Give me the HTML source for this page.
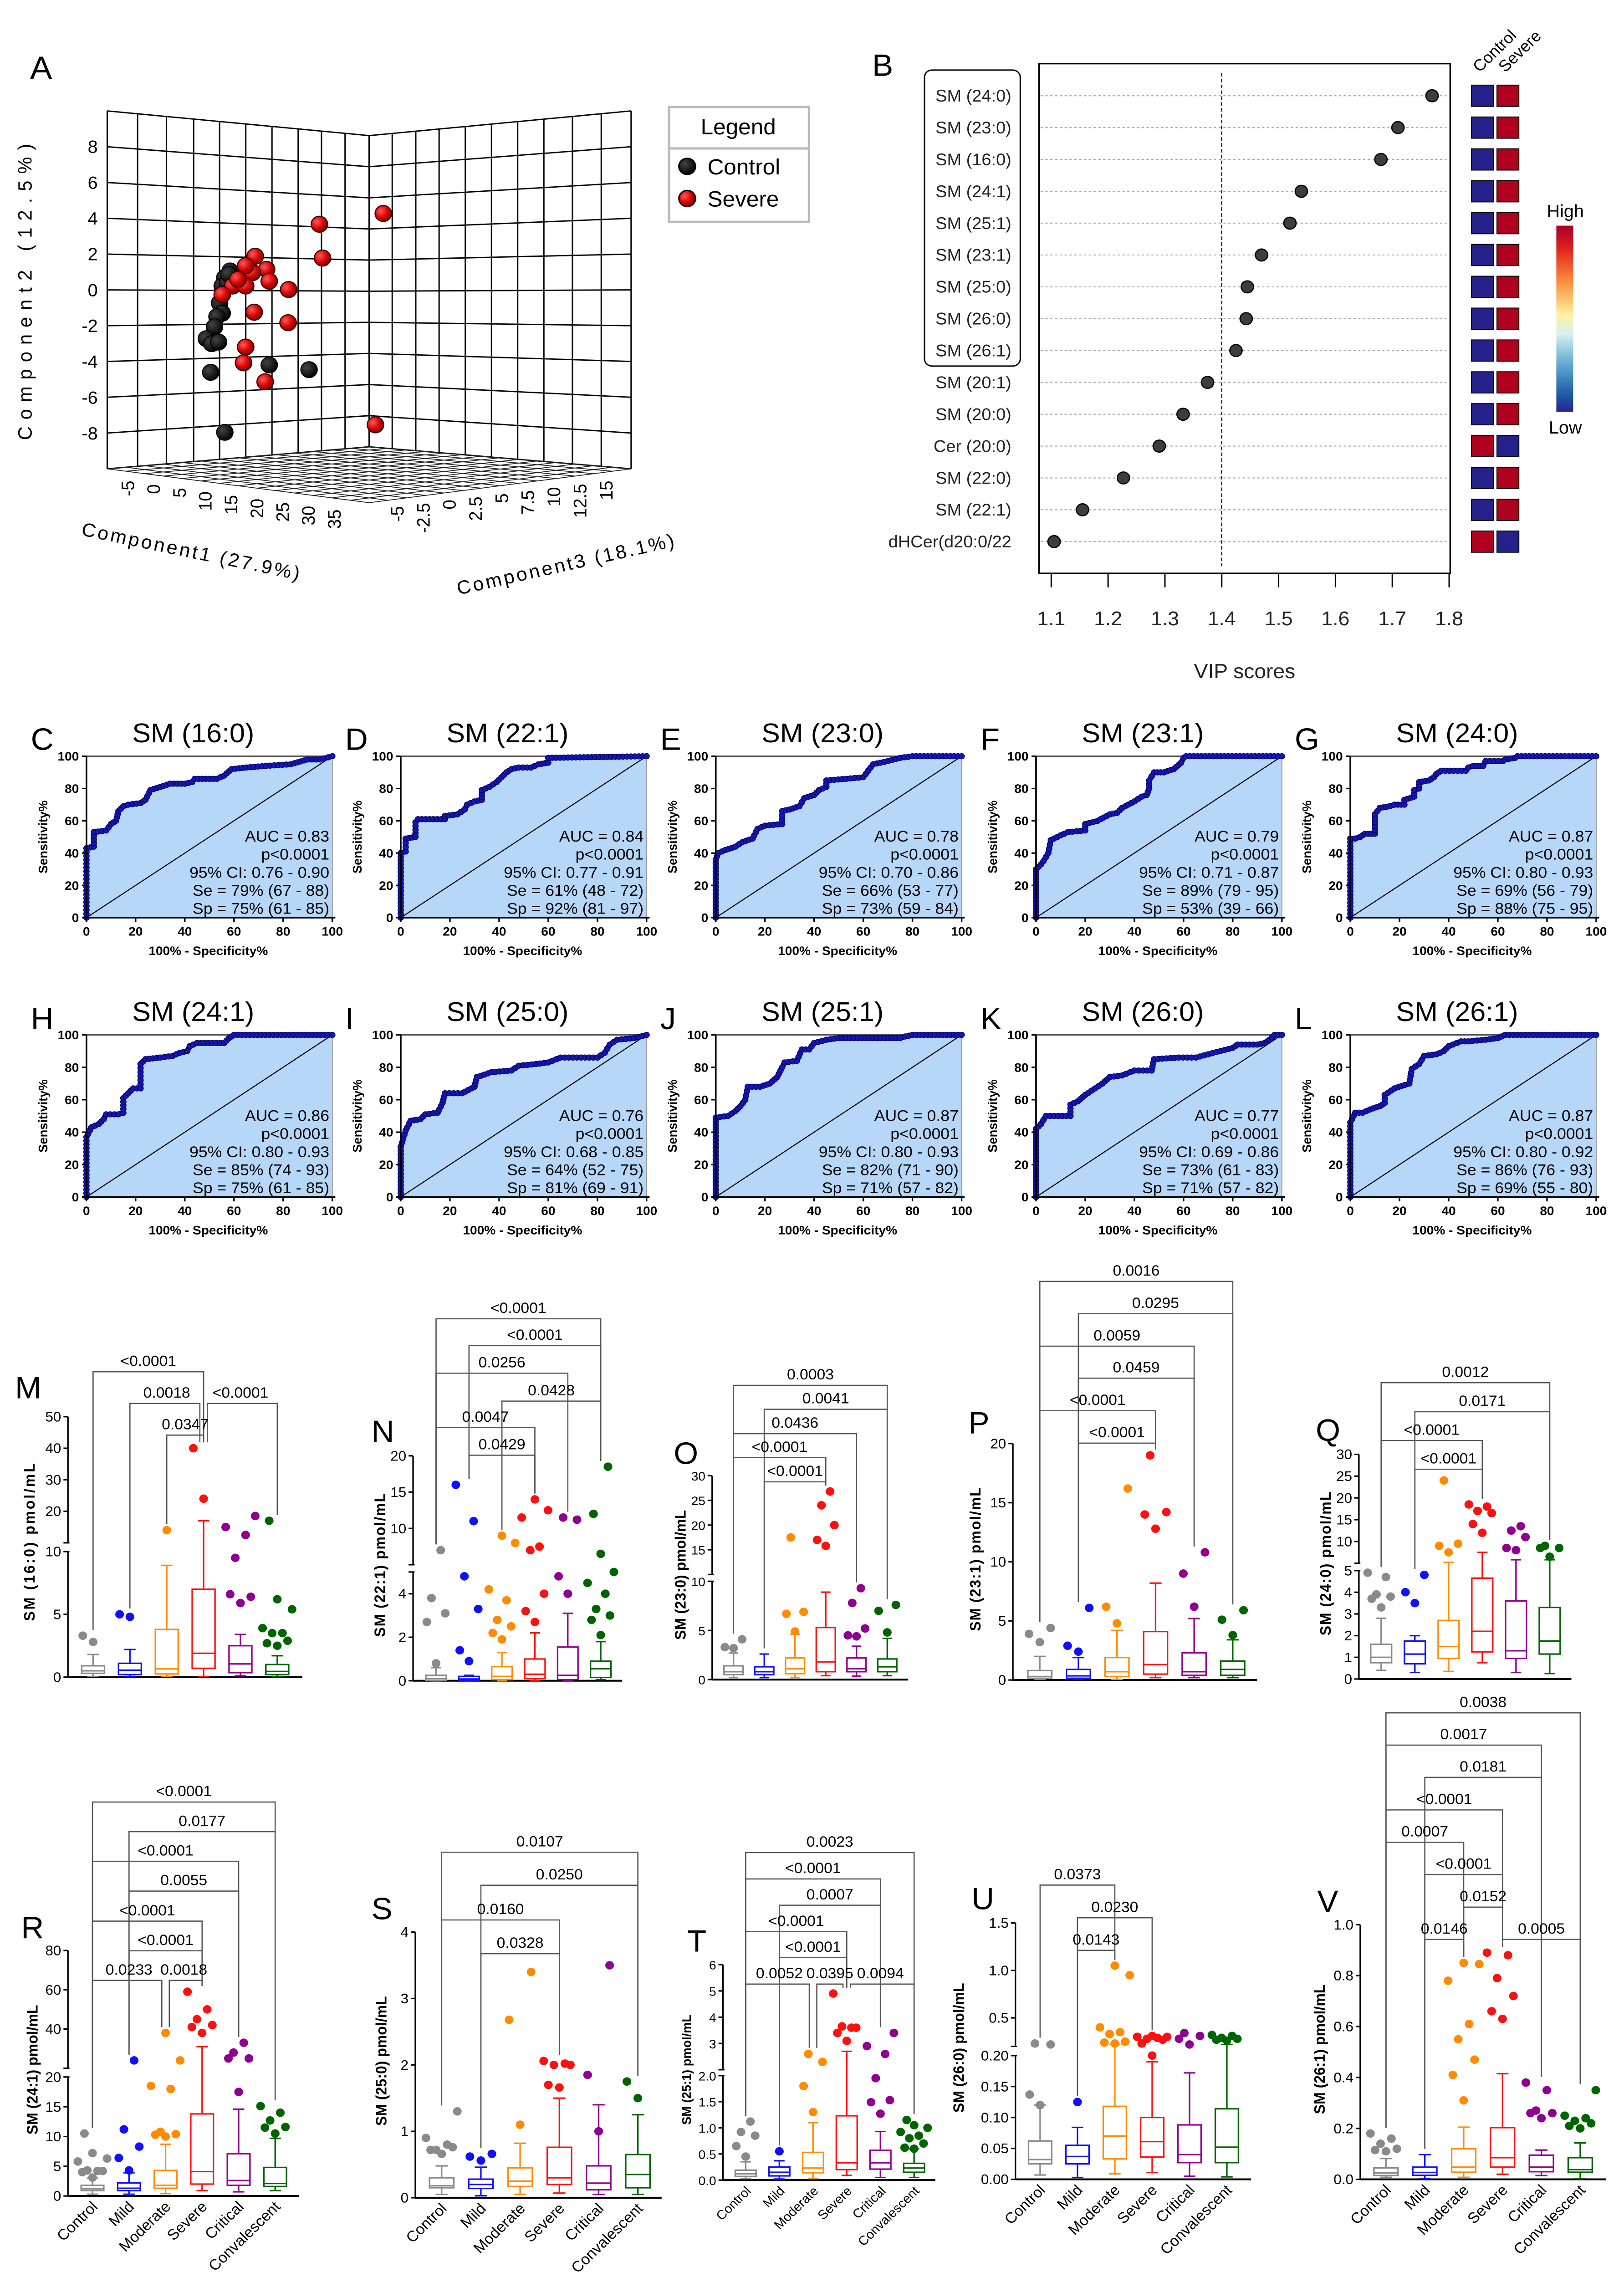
<!DOCTYPE html>
<html><head><meta charset="utf-8">
<style>
html,body{margin:0;padding:0;background:#fff;width:100%;height:100%;overflow:hidden;}
svg{display:block;position:fixed;left:0;top:0;width:100vw;height:100vh;font-family:"Liberation Sans",Arial,sans-serif;}
</style></head>
<body>
<svg id="fig" xmlns="http://www.w3.org/2000/svg" viewBox="0 0 1080 1560" preserveAspectRatio="none" overflow="hidden">
<defs>
<radialGradient id="redball" cx="35%" cy="35%" r="70%"><stop offset="0" stop-color="#ff5a5a"/><stop offset="0.6" stop-color="#d40000"/><stop offset="1" stop-color="#7a0000"/></radialGradient>
<radialGradient id="blackball" cx="35%" cy="35%" r="70%"><stop offset="0" stop-color="#444"/><stop offset="1" stop-color="#000"/></radialGradient>
<linearGradient id="cbar" x1="0" y1="0" x2="0" y2="1">
<stop offset="0" stop-color="#a50026"/><stop offset="0.12" stop-color="#e0201c"/><stop offset="0.3" stop-color="#fb8d3c"/><stop offset="0.48" stop-color="#fff3a0"/><stop offset="0.58" stop-color="#d6f1f2"/><stop offset="0.75" stop-color="#5fa8d0"/><stop offset="0.9" stop-color="#1d5fa8"/><stop offset="1" stop-color="#2b2390"/>
</linearGradient>
</defs>
</svg>
<script>
// ---------------- DATA ----------------
const ctrlProjX=[9.38,8.98,8.78,8.58,8.78,8.38,8.19,7.57,7.98,8.5,7.9,12.37,15.41,8.98,9.18,9.3];
const ctrlPC2=[1.04,0.67,0.2,-0.75,-1.32,-1.51,-2.08,-2.74,-3.02,-2.93,-4.62,-4.21,-4.47,-7.97,0.38,0.85];
const sevProjX=[21.08,16.2,16.44,11.3,12.17,11.09,10.57,12.37,13.85,9.58,10.57,8.78,11.22,13.81,10.57,10.41,12.06,20.48,9.98];
const sevPC2=[4.25,3.65,1.76,1.86,1.13,0.95,1.33,0.47,0,0.2,0.2,-0.28,-1.26,-1.85,-3.21,-4.09,-5.15,-7.55,0.57];
const pc2Ticks=[8,6,4,2,0,-2,-4,-6,-8];
const pc1Ticks=['-5','0','5','10','15','20','25','30','35'];
const pc3Ticks=['-5','-2.5','0','2.5','5','7.5','10','12.5','15'];
const vipNames=['SM (24:0)','SM (23:0)','SM (16:0)','SM (24:1)','SM (25:1)','SM (23:1)','SM (25:0)','SM (26:0)','SM (26:1)','SM (20:1)','SM (20:0)','Cer (20:0)','SM (22:0)','SM (22:1)','dHCer(d20:0/22'];
const vipScores=[1.77,1.71,1.68,1.54,1.52,1.47,1.445,1.443,1.425,1.375,1.332,1.29,1.227,1.155,1.105];
const heatControl=[0,0,0,0,0,0,0,0,0,0,0,1,0,0,1];
const heatSevere=[1,1,1,1,1,1,1,1,1,1,1,0,1,1,0];
const vipTicks=[1.1,1.2,1.3,1.4,1.5,1.6,1.7,1.8];
const rocLetters=['C','D','E','F','G','H','I','J','K','L'];
const rocTitles=['SM (16:0)','SM (22:1)','SM (23:0)','SM (23:1)','SM (24:0)','SM (24:1)','SM (25:0)','SM (25:1)','SM (26:0)','SM (26:1)'];
const rocAUC=['0.83','0.84','0.78','0.79','0.87','0.86','0.76','0.87','0.77','0.87'];
const rocCI=['0.76 - 0.90','0.77 - 0.91','0.70 - 0.86','0.71 - 0.87','0.80 - 0.93','0.80 - 0.93','0.68 - 0.85','0.80 - 0.93','0.69 - 0.86','0.80 - 0.92'];
const rocSe=['79% (67 - 88)','61% (48 - 72)','66% (53 - 77)','89% (79 - 95)','69% (56 - 79)','85% (74 - 93)','64% (52 - 75)','82% (71 - 90)','73% (61 - 83)','86% (76 - 93)'];
const rocSp=['75% (61 - 85)','92% (81 - 97)','73% (59 - 84)','53% (39 - 66)','88% (75 - 95)','75% (61 - 85)','81% (69 - 91)','71% (57 - 82)','71% (57 - 82)','69% (55 - 80)'];
const rocC=[[0,0],[0,43],[3,44],[3,53],[8,54],[10,58],[12,60],[13,66],[15,69],[17,70],[22,71],[24,73],[26,79],[30,81],[34,83],[40,83],[43,84],[44,86],[53,86],[56,88],[59,92],[65,93],[73,94],[83,95],[90,98],[95,98],[100,100]];
const rocD=[[0,0],[0,40],[2,41],[2,49],[6,50],[6,59],[7,61],[18,61],[18,63],[23,64],[26,67],[27,70],[30,72],[33,73],[33,79],[36,81],[39,84],[41,87],[43,90],[45,92],[48,93],[53,93],[56,95],[60,96],[60,99],[100,100]];
const rocE=[[0,0],[0,36],[1,40],[4,42],[8,44],[11,47],[15,49],[17,55],[20,57],[27,58],[27,66],[30,67],[34,69],[36,74],[40,76],[42,79],[45,81],[45,85],[53,86],[60,87],[62,91],[64,95],[70,97],[75,99],[80,100],[100,100]];
const rocF=[[0,0],[0,30],[2,33],[3,35],[5,40],[6,48],[10,51],[13,53],[20,54],[20,58],[25,60],[30,64],[33,65],[35,68],[40,72],[43,75],[45,76],[46,80],[46,85],[48,90],[52,90],[56,92],[59,96],[60,99],[61,100],[100,100]];
const rocG=[[0,0],[0,49],[2,49],[4,50],[6,52],[10,52],[10,64],[12,68],[16,69],[18,70],[22,70],[22,73],[26,75],[26,79],[28,80],[28,84],[32,85],[34,87],[35,89],[37,91],[47,91],[48,93],[50,94],[54,94],[55,97],[62,97],[63,98],[67,99],[68,100],[100,100]];
const rocH=[[0,0],[0,37],[2,43],[5,45],[7,48],[8,51],[13,51],[15,52],[15,61],[17,64],[19,67],[22,67],[22,82],[24,85],[30,86],[35,87],[38,89],[41,90],[42,93],[45,95],[56,95],[58,98],[60,100],[100,100]];
const rocI=[[0,0],[0,31],[2,41],[4,47],[8,48],[10,51],[15,52],[17,58],[18,64],[25,64],[30,68],[31,74],[37,77],[45,78],[48,81],[55,82],[60,83],[65,86],[80,86],[83,89],[85,94],[88,97],[95,98],[100,100]];
const rocJ=[[0,0],[0,49],[5,50],[8,53],[10,56],[12,60],[13,68],[18,68],[22,70],[25,74],[27,80],[28,83],[33,84],[35,91],[38,91],[40,95],[45,97],[50,98],[75,98],[77,99],[80,100],[100,100]];
const rocK=[[0,0],[0,42],[2,45],[4,50],[14,50],[14,57],[17,59],[20,63],[24,67],[27,70],[30,74],[35,75],[40,78],[47,78],[48,85],[58,86],[65,86],[70,88],[75,90],[80,92],[82,94],[90,94],[93,95],[95,97],[97,100],[100,100]];
const rocL=[[0,0],[0,46],[2,52],[5,52],[8,54],[12,56],[14,58],[14,63],[18,67],[22,69],[24,70],[25,79],[28,82],[30,87],[35,88],[38,90],[40,93],[45,96],[48,96],[55,97],[60,98],[63,100],[100,100]];
const rocTicks=[0,20,40,60,80,100];
const groups=['Control','Mild','Moderate','Severe','Critical','Convalescent'];
const boxM=[[0.05,0.3,0.5,0.9,1.8],[0.05,0.2,0.55,1.1,2.2],[0.05,0.25,0.65,3.8,8.9],[0.05,0.7,1.9,7.0,17],[0.1,0.35,1.05,2.5,3.4],[0.05,0.2,0.45,1.0,1.7]];
const outM=[[2.8,3.3],[4.8,5.0],[14],[24,40],[5.9,6.6,6.4,9.5,12.5,15,18.5],[2.5,2.7,2.9,3.5,3.5,3.9,5.4,6.2,17]];
const brM=[[0,3,'<0.0001'],[1,3,'0.0018'],[3,5,'<0.0001'],[2,3,'0.0347']];
const boxN=[[0,0.02,0.1,0.25,0.6],[0,0.02,0.08,0.2,0.25],[0,0.05,0.2,0.65,1.3],[0,0.1,0.3,1.0,2.2],[0,0.05,0.25,1.55,3.1],[0.05,0.15,0.55,0.9,1.8]];
const outN=[[0.8,2.7,3.1,3.8,7],[0.9,1.4,3.3,4.8,11,16],[1.9,2.2,2.5,2.8,3.7,4.2,8,9],[2.7,3.2,4.0,7,7.5,11.5,12.5,14],[4,4.8,11.2,11.5],[2.1,2.8,3.0,3.3,4.0,4.5,5.0,6.5,12,18.5]];
const brN=[[0,5,'<0.0001'],[1,5,'<0.0001'],[0,4,'0.0256'],[2,5,'0.0428'],[0,3,'0.0047'],[1,3,'0.0429']];
const boxO=[[0.2,0.5,0.8,1.4,2.7],[0.2,0.5,0.8,1.3,2.6],[0.2,0.6,1.1,2.2,4.6],[0.4,0.8,1.8,5.3,8.9],[0.35,0.8,1.1,2.2,3.4],[0.4,0.8,1.3,2.1,4.2]];
const outO=[[3.2,3.3,4.1],[],[4.9,6.7,6.9,17.5],[15.8,17,20,24,26.8],[4.4,4.5,5.2,7.8,9.3],[4.8,7.0,7.6]];
const brO=[[0,5,'0.0003'],[1,5,'0.0041'],[0,4,'0.0436'],[0,3,'<0.0001'],[1,3,'<0.0001']];
const boxP=[[0.05,0.15,0.3,0.8,2.0],[0.05,0.15,0.35,0.9,1.9],[0.05,0.3,0.7,1.9,4.2],[0.2,0.5,1.3,4.1,8.2],[0.2,0.4,0.7,2.3,5.2],[0.2,0.4,0.9,1.6,3.4]];
const outP=[[3.2,3.9,4.4],[2.4,2.9,6.1],[4.8,6.2,16.2],[12.8,14,14.2,19],[6.2,9,10.8],[3.8,5.1,5.9]];
const brP=[[0,5,'0.0016'],[1,5,'0.0295'],[0,4,'0.0059'],[1,4,'0.0459'],[0,3,'<0.0001'],[1,3,'<0.0001']];
const boxQ=[[0.4,0.75,1.0,1.6,2.8],[0.3,0.7,1.15,1.75,2.0],[0.35,0.95,1.5,2.7,5.2],[0.75,1.25,2.2,4.65,7.5],[0.3,0.95,1.3,3.6,5.8],[0.25,1.15,1.75,3.3,5.8]];
const outQ=[[3.3,3.7,3.8,3.9,4.7,4.9],[3.5,4.0,4.8],[7.5,9,9.5,24],[12,14,16.5,17,18,18.5],[8,8.5,11,12.5,13.5],[6.5,8.5,8.5,9.0]];
const brQ=[[0,5,'0.0012'],[1,5,'0.0171'],[0,3,'<0.0001'],[1,3,'<0.0001']];
const boxR=[[0.3,0.9,1.2,1.8,3.0],[0.3,0.9,1.3,2.2,3.9],[0.4,1.3,1.8,4.3,8.7],[0.9,2.0,4.1,13.8,31],[0.7,1.8,2.6,7.1,14.6],[0.9,1.6,2.1,4.8,9.7]];
const outR=[[3.1,4,4.2,4.3,4.2,5.8,6.3,7.2,10.5],[4.3,6.4,8.3,11.2,24],[10,10.3,10.4,10.8,18,18.5,24,38],[38,41,42,45,50,59],[17.5,25,25,28,33],[10.5,11.5,11.6,12.7,14,15.1]];
const brR=[[0,5,'<0.0001'],[1,5,'0.0177'],[0,4,'<0.0001'],[1,4,'0.0055'],[0,3,'<0.0001'],[1,3,'<0.0001'],[0,2,'0.0233'],[2,3,'0.0018']];
const boxS=[[0.05,0.15,0.18,0.3,0.48],[0.03,0.14,0.2,0.28,0.46],[0.05,0.17,0.25,0.45,0.82],[0.07,0.2,0.3,0.76,1.5],[0.05,0.12,0.22,0.48,1.4],[0.05,0.15,0.35,0.65,1.25]];
const outS=[[0.66,0.72,0.76,0.72,0.8,0.9,1.3],[0.56,0.62,0.66],[1.1,2.68,3.4],[1.66,1.7,2.0,2.0,2.02,2.06],[1.0,1.85,3.5],[1.5,1.75]];
const brS=[[0,5,'0.0107'],[1,5,'0.0250'],[0,3,'0.0160'],[1,3,'0.0328']];
const boxT=[[0.03,0.07,0.12,0.19,0.35],[0.02,0.08,0.15,0.25,0.37],[0.03,0.14,0.23,0.53,1.1],[0.09,0.2,0.33,1.23,2.7],[0.05,0.21,0.33,0.57,0.93],[0.05,0.15,0.23,0.32,0.6]];
const outT=[[0.45,0.65,0.85,0.92,1.12],[0.55],[1.3,1.8,2.3,2.6],[3.1,3.4,3.6,3.65,3.6,4.9],[1.27,1.49,1.53,1.95,2.6,2.9,3.4],[0.6,0.62,0.7,0.8,0.85,0.92,1.0,1.05,1.15]];
const brT=[[0,5,'0.0023'],[0,4,'<0.0001'],[1,4,'0.0007'],[0,3,'<0.0001'],[1,3,'<0.0001'],[0,2,'0.0052'],[2,3,'0.0395'],[3,5,'0.0094']];
const boxU=[[0.007,0.025,0.032,0.062,0.12],[0.003,0.025,0.037,0.055,0.084],[0.009,0.033,0.07,0.118,0.22],[0.011,0.036,0.061,0.1,0.19],[0.005,0.027,0.04,0.088,0.172],[0.004,0.027,0.052,0.114,0.22]];
const outU=[[0.12,0.137,0.22,0.23],[0.125],[0.23,0.24,0.25,0.33,0.35,0.4,0.95,1.05],[0.2,0.23,0.27,0.28,0.29,0.3,0.3,0.31],[0.22,0.28,0.31,0.34],[0.26,0.27,0.28,0.29,0.31,0.32]];
const brU=[[0,2,'0.0373'],[1,3,'0.0230'],[1,2,'0.0143']];
const boxV=[[0.008,0.015,0.025,0.045,0.082],[0.003,0.016,0.027,0.048,0.097],[0.008,0.028,0.048,0.12,0.205],[0.02,0.048,0.085,0.203,0.415],[0.015,0.03,0.048,0.095,0.115],[0.003,0.028,0.038,0.085,0.143]];
const outV=[[0.11,0.115,0.12,0.14,0.16,0.18],[],[0.31,0.41,0.47,0.55,0.61,0.78,0.845,0.85],[0.63,0.66,0.72,0.79,0.88,0.89],[0.24,0.26,0.26,0.27,0.35,0.38],[0.2,0.21,0.22,0.23,0.24,0.25,0.35]];
const brV=[[0,5,'0.0038'],[0,4,'0.0017'],[1,4,'0.0181'],[0,3,'<0.0001'],[0,2,'0.0007'],[1,3,'<0.0001'],[2,3,'0.0152'],[1,2,'0.0146'],[3,5,'0.0005']];

// ---------------- RENDER ----------------
const NS='http://www.w3.org/2000/svg';
const svg=document.getElementById('fig');
function mk(tag,attrs,parent){const e=document.createElementNS(NS,tag);for(const k in attrs)e.setAttribute(k,attrs[k]);(parent||svg).appendChild(e);return e;}
function tx(parent,x,y,s,attrs){const a=Object.assign({x:x,y:y},attrs||{});const e=mk('text',a,parent);e.textContent=s;return e;}
function grp(name){const g=mk('g',{});return g;}

// ===== Panel A =====
(function(){
const g=grp('panel-a-3d-scatter');
const L=tx(g,20,54,'A',{'font-size':22});


const lerp=(a,b,t)=>[a[0]+(b[0]-a[0])*t,a[1]+(b[1]-a[1])*t];
const TL=[71.3,76],TC=[245.5,92.9],BC=[245.5,306.1],BL=[71.3,321.2],TR=[419.7,76],BR=[419.7,321.2],FR=[245.5,344.4];
const gridG=mk('g',{stroke:'#000','stroke-width':0.9,fill:'none'},g);


const fl=[0,0.116,0.226,0.33,0.429,0.529,0.629,0.729,0.818,0.908,1];
const fr=[0,0.088,0.178,0.267,0.367,0.467,0.567,0.667,0.776,0.886,1];
fl.forEach(t=>{const a=lerp(TL,TC,t),b=lerp(BL,BC,t);mk('line',{x1:a[0],y1:a[1],x2:b[0],y2:b[1]},gridG);});
fr.forEach(t=>{const a=lerp(TC,TR,t),b=lerp(BC,BR,t);mk('line',{x1:a[0],y1:a[1],x2:b[0],y2:b[1]},gridG);});
for(let k=0;k<=10;k++){const t=k/10;const a=lerp(TL,BL,t),b=lerp(TC,BC,t),c=lerp(TR,BR,t);
 mk('polyline',{points:`${a[0]},${a[1]} ${b[0]},${b[1]} ${c[0]},${c[1]}`},gridG);}
const floorG=mk('g',{stroke:'#222','stroke-width':0.55,fill:'none'},g);


const n=14;
for(let k=0;k<=n;k++){const t=k/n;
 const a=lerp(BL,BC,t),b=lerp(FR,BR,t);mk('line',{x1:a[0],y1:a[1],x2:b[0],y2:b[1]},floorG);
 const c=lerp(BC,BR,t),d=lerp(BL,FR,t);mk('line',{x1:c[0],y1:c[1],x2:d[0],y2:d[1]},floorG);}
const ya=v=>198.4-v*12.27;
pc2Ticks.forEach(v=>{const e=tx(g,65,ya(v)+4.5,String(v),{'font-size':12,'text-anchor':'end'});
 
 });
pc1Ticks.forEach((s,i)=>{const t=i/8;const x=85.2+(222.5-85.2)*t,y=329.3+(349-329.3)*t;
 const e=tx(g,x+4,y,s,{'font-size':12,'text-anchor':'end',transform:`rotate(-90 ${x+4} ${y})`});
 
 });
pc3Ticks.forEach((s,i)=>{const t=i/8;const x=264.3+(403.3-264.3)*t,y=346.7+(329.3-346.7)*t;
 const e=tx(g,x+4,y,s,{'font-size':12,'text-anchor':'end',transform:`rotate(-90 ${x+4} ${y})`});
 
 });
let e=tx(g,21,200,'Component2 (12.5%)',{'font-size':13,'text-anchor':'middle',textLength:203,lengthAdjust:'spacing',transform:'rotate(-90 21 200)'});


e=tx(g,126,382,'Component1 (27.9%)',{'font-size':13,'text-anchor':'middle',textLength:148,lengthAdjust:'spacing',transform:'rotate(12 126 382)'});


e=tx(g,377,391,'Component3 (18.1%)',{'font-size':13,'text-anchor':'middle',textLength:148,lengthAdjust:'spacing',transform:'rotate(-13 377 391)'});


const px=u=>71.3+u*8.71;
const pg=mk('g',{},g);


ctrlProjX.forEach((u,i)=>{const c=mk('circle',{cx:px(u),cy:ya(ctrlPC2[i]),r:5.5,fill:'url(#blackball)',stroke:'#000','stroke-width':0.6},pg);
 
 });
sevProjX.forEach((u,i)=>{const c=mk('circle',{cx:px(u),cy:ya(sevPC2[i]),r:5.5,fill:'url(#redball)',stroke:'#300','stroke-width':0.7},pg);
 
 });
const lg=mk('g',{},g);


mk('rect',{x:445,y:73.2,width:93,height:78.8,fill:'#fff',stroke:'#bbb','stroke-width':1.6},lg);
mk('line',{x1:445,y1:101.7,x2:538,y2:101.7,stroke:'#bbb','stroke-width':1.6},lg);
tx(lg,491,92,'Legend',{'font-size':15,'text-anchor':'middle'});
let c=mk('circle',{cx:457,cy:114,r:5.5,fill:'url(#blackball)',stroke:'#000'},lg);


tx(lg,470.5,119.5,'Control',{'font-size':15});
c=mk('circle',{cx:457,cy:136,r:5.5,fill:'url(#redball)',stroke:'#300'},lg);


tx(lg,470.5,141.5,'Severe',{'font-size':15});
})();

// ===== Panel B =====
(function(){
const g=grp('panel-b-vip-scores');
let e=tx(g,580,52,'B',{'font-size':21});


const x=v=>699.1+(v-1.1)*378;
const row=i=>65.6+i*21.82;
mk('rect',{x:691,y:43.6,width:273.4,height:349.2,fill:'none',stroke:'#000','stroke-width':1},g);
mk('rect',{x:614.8,y:48,width:63.7,height:202.8,rx:5,fill:'none',stroke:'#000','stroke-width':0.9},g);
mk('line',{x1:x(1.4),y1:50,x2:x(1.4),y2:388,stroke:'#000','stroke-width':0.7,'stroke-dasharray':'2.5,1.5'},g);
vipNames.forEach((nm,i)=>{
 const y=row(i);
 const l=mk('line',{x1:692,y1:y,x2:962,y2:y,stroke:'#aaa','stroke-width':0.7,'stroke-dasharray':'1.6,1.6'},g);
 
 
 const t=tx(g,672.6,y+4,nm,{'font-size':11.5,'text-anchor':'end',fill:'#222'});
 
 
 const c=mk('circle',{cx:x(vipScores[i]),cy:y,r:4.1,fill:'#3d3d3d',stroke:'#000','stroke-width':0.8},g);
 
 
 const hc=mk('rect',{x:978.5,y:y-7.3,width:14.6,height:14.6,fill:heatControl[i]?'#b00020':'#25208a',stroke:'#000','stroke-width':0.6},g);
 
 
 const hs=mk('rect',{x:995.5,y:y-7.3,width:14.6,height:14.6,fill:heatSevere[i]?'#b00020':'#25208a',stroke:'#000','stroke-width':0.6},g);
 
 
});
vipTicks.forEach(v=>{
 mk('line',{x1:x(v),y1:392.8,x2:x(v),y2:402.4,stroke:'#000','stroke-width':0.9},g);
 const t=tx(g,x(v),428.4,v.toFixed(1),{'font-size':13.5,'text-anchor':'middle',fill:'#222'});
 
 
});
e=tx(g,827.7,464.6,'VIP scores',{'font-size':14,'text-anchor':'middle',fill:'#222'});


e=tx(g,984,50,'Control',{'font-size':11,transform:'rotate(-45 984 50)'});


e=tx(g,1001,50,'Severe',{'font-size':11,transform:'rotate(-45 1001 50)'});


e=mk('rect',{x:1035,y:154.6,width:11.2,height:127.5,fill:'url(#cbar)'},g);


e=tx(g,1041,148.8,'High',{'font-size':12,'text-anchor':'middle'});


e=tx(g,1041,297,'Low',{'font-size':12,'text-anchor':'middle'});


})();

// ===== ROC panels =====
const rocCurves=[rocC,rocD,rocE,rocF,rocG,rocH,rocI,rocJ,rocK,rocL];
const rocAxX=[57.5,266.5,476,689,898];
rocCurves.forEach((curve,k)=>{
 const col=k%5,rowi=Math.floor(k/5);
 const ax=rocAxX[col],top=rowi?709:518.1,bot=rowi?820.1:628.7,W=163.5,H=bot-top;
 const X=v=>ax+v/100*W, Y=v=>bot-v/100*H;
 const g=grp('roc-panel-'+rocLetters[k].toLowerCase());
 let e=tx(g,ax-37,bot-115,rocLetters[k],{'font-size':21});
 
 
 e=tx(g,ax+71,top-9.5,rocTitles[k],{'font-size':18.5,'text-anchor':'middle'});
 
 
 const pts=curve.map(p=>X(p[0])+','+Y(p[1])).join(' ');
 e=mk('polygon',{points:pts+' '+X(100)+','+Y(0),fill:'#b6d7f7'},g);
 
 
 mk('line',{x1:X(0),y1:Y(100),x2:X(100),y2:Y(100),stroke:'#555','stroke-width':1},g);
 mk('line',{x1:X(100),y1:Y(100),x2:X(100),y2:Y(0),stroke:'#999','stroke-width':0.6},g);
 e=mk('line',{x1:X(0),y1:Y(0),x2:X(100),y2:Y(100),stroke:'#000','stroke-width':0.7},g);
 
 
 e=mk('polyline',{points:pts,fill:'none',stroke:'#000060','stroke-width':3.6,'stroke-linejoin':'round'},g);
 
 
 const dg=mk('g',{fill:'#1515b5',stroke:'#000050','stroke-width':0.4},g);
 
 
 for(let i=0;i<curve.length-1;i++){
  const x1=X(curve[i][0]),y1=Y(curve[i][1]),x2=X(curve[i+1][0]),y2=Y(curve[i+1][1]);
  const d=Math.hypot(x2-x1,y2-y1),n=Math.max(1,Math.round(d/2.6));
  for(let j=0;j<n;j++){const t=j/n;mk('circle',{cx:x1+(x2-x1)*t,cy:y1+(y2-y1)*t,r:1.9},dg);}
 }
 mk('circle',{cx:X(100),cy:Y(100),r:1.9},dg);
 mk('line',{x1:ax,y1:top,x2:ax,y2:bot,stroke:'#000','stroke-width':1.1},g);
 mk('line',{x1:ax,y1:bot,x2:ax+W+2,y2:bot,stroke:'#000','stroke-width':1.1},g);
 rocTicks.forEach(v=>{
  mk('line',{x1:ax-3,y1:Y(v),x2:ax,y2:Y(v),stroke:'#000','stroke-width':1},g);
  mk('line',{x1:X(v),y1:bot,x2:X(v),y2:bot+3,stroke:'#000','stroke-width':1},g);
  let t=tx(g,ax-5,Y(v)+3,String(v),{'font-size':8.5,'font-weight':'bold','text-anchor':'end'});
  
  
  t=tx(g,X(v),bot+12.3,String(v),{'font-size':8.5,'font-weight':'bold','text-anchor':'middle'});
  
  
 });
 e=tx(g,ax+81,bot+25.5,'100% - Specificity%',{'font-size':8.5,'font-weight':'bold','text-anchor':'middle'});
 
 
 const yc=(top+bot)/2;
 e=tx(g,ax-26,yc,'Sensitivity%',{'font-size':8.5,'font-weight':'bold','text-anchor':'middle',transform:`rotate(-90 ${ax-26} ${yc})`});
 
 
 const lines=['AUC = '+rocAUC[k],'p<0.0001','95% CI:  '+rocCI[k],'Se = '+rocSe[k],'Sp = '+rocSp[k]];
 lines.forEach((s,i)=>{const t=tx(g,ax+161.5,bot-52.1+i*12.37,s,{'font-size':10.8,'text-anchor':'end'});
  
  });
});

// ===== Box plot panels =====
const colors=['#8a8a8a','#1010ff','#ff8c00','#ff1010','#900090','#006400'];
const boxPanels=[
 {id:'m',letter:'M',lx:10,ly:958,box:boxM,out:outM,br:brM,ax:45.2,gx0:61.9,gdx:24.5,right:201,segs:[[0,10,1149,1063],[10,50,1057,970.6]],ticks:[[0,5,10],[20,30,40,50]],fmt:0,brY:[939.8,961.5,961.5,983.2],yl:'SM (16:0) pmol/mL',ylx:23,yly:1056,yls:1.2,cats:false},
 {id:'n',letter:'N',lx:247,ly:988,box:boxN,out:outN,br:brN,ax:274.7,gx0:290,gdx:21.9,right:413.8,segs:[[0,5,1151.5,1077],[5,20,1072,997.4]],ticks:[[0,2,4],[10,15,20]],fmt:0,brY:[903.5,921.9,940.8,959.9,978,997],yl:'SM (22:1) pmol/mL',ylx:256,yly:1072,yls:0.6,cats:false},
 {id:'o',letter:'O',lx:448,ly:1003,box:boxO,out:outO,br:brO,ax:473.6,gx0:487.8,gdx:20.45,right:604,segs:[[0,10,1150.7,1083.4],[10,30,1078.7,1011]],ticks:[[0,5,10],[15,20,25,30]],fmt:0,brY:[949.1,965.5,982.2,998.6,1015.2],yl:'SM (23:0) pmol/mL',ylx:456,yly:1079,yls:0,cats:false,fs:8.5},
 {id:'p',letter:'P',lx:644,ly:982,box:boxP,out:outP,br:brP,ax:673.6,gx0:691.5,gdx:25.66,right:836,segs:[[0,20,1151,989]],ticks:[[0,5,10,15,20]],fmt:0,brY:[877.9,900,922.3,944.2,966.5,988.7],yl:'SM (23:1) pmol/mL',ylx:652,yly:1068,yls:0.6,cats:false},
 {id:'q',letter:'Q',lx:875,ly:987,box:boxQ,out:outQ,br:brQ,ax:903.7,gx0:918.5,gdx:22.42,right:1045,segs:[[0,5,1150.3,1076],[5,30,1071,996.4]],ticks:[[0,1,2,3,4,5],[10,15,20,25,30]],fmt:0,brY:[947.3,967.2,986.9,1006.6],yl:'SM (24:0) pmol/mL',ylx:885,yly:1071,yls:0.6,cats:false},
 {id:'r',letter:'R',lx:14,ly:1328,box:boxR,out:outR,br:brR,ax:45.2,gx0:61.5,gdx:24.3,right:198.8,segs:[[0,20,1504.5,1423],[20,80,1417,1336.3]],ticks:[[0,5,10,15,20],[40,60,80]],fmt:0,brY:[1234.6,1254.9,1275.2,1295.6,1316.2,1336.5,1356.8,1356.8],yl:'SM (24:1) pmol/mL',ylx:25,yly:1418,yls:0,cats:true},
 {id:'s',letter:'S',lx:247,ly:1315,box:boxS,out:outS,br:brS,ax:276.2,gx0:293.7,gdx:26.1,right:440,segs:[[0,4,1505.7,1323.7]],ticks:[[0,1,2,3,4]],fmt:0,brY:[1269,1291.6,1315.4,1338.5],yl:'SM (25:0) pmol/mL',ylx:257,yly:1412,yls:0,cats:true},
 {id:'t',letter:'T',lx:457,ly:1337,box:boxT,out:outT,br:brT,ax:480.8,gx0:495.9,gdx:22.4,right:622,segs:[[0,2,1493.6,1422],[2,6,1418,1346]],ticks:[[0,0.5,1,1.5,2],[3,4,5,6]],fmt:[1,0],brY:[1269.2,1287.3,1305.3,1323.4,1341.2,1359.3,1359.3,1359.3],yl:'SM (25:1) pmol/mL',ylx:459.5,yly:1418,yls:0,cats:true,fs:8.5,cfs:8.8},
 {id:'u',letter:'U',lx:646,ly:1308,box:boxU,out:outU,br:brU,ax:675.3,gx0:691.7,gdx:24.84,right:832,segs:[[0,0.2,1493.1,1408.3],[0.2,1.5,1402,1317.4]],ticks:[[0,0.05,0.1,0.15,0.2],[0.5,1,1.5]],fmt:[2,1],brY:[1291.5,1313.9,1336.2],yl:'SM (26:0) pmol/mL',ylx:641,yly:1403,yls:0,cats:true},
 {id:'v',letter:'V',lx:876,ly:1310,box:boxV,out:outV,br:brV,ax:904.6,gx0:921.7,gdx:25.84,right:1068,segs:[[0,1,1493.1,1318.6]],ticks:[[0,0.2,0.4,0.6,0.8,1]],fmt:[1],brY:[1173.5,1195.6,1217.7,1240,1262.2,1284.3,1306.6,1328.7,1328.7],yl:'SM (26:1) pmol/mL',ylx:881,yly:1404,yls:0,cats:true}
];
const jit=[0,-0.28,0.28,-0.14,0.14,-0.4,0.4,0,-0.22,0.22];
boxPanels.forEach(P=>{
 const g=grp('boxplot-panel-'+P.id);
 const Y=v=>{for(const s of P.segs){if(v<=s[1])return s[2]+(v-s[0])/(s[1]-s[0])*(s[3]-s[2]);}const s=P.segs[P.segs.length-1];return s[2]+(v-s[0])/(s[1]-s[0])*(s[3]-s[2]);};
 const GX=i=>P.gx0+i*P.gdx;
 const fs=P.fs||9.5;
 let e=tx(g,P.lx,P.ly,P.letter,{'font-size':21});
 
 
 P.segs.forEach((s,si)=>{
  mk('line',{x1:P.ax,y1:s[2]+(si===0?0.5:0),x2:P.ax,y2:s[3],stroke:'#000','stroke-width':1},g);
  if(P.segs.length>1){
   if(si===0)mk('line',{x1:P.ax-3,y1:s[3],x2:P.ax+1,y2:s[3],stroke:'#000','stroke-width':1},g);
   else mk('line',{x1:P.ax-3,y1:s[2],x2:P.ax+1,y2:s[2],stroke:'#000','stroke-width':1},g);
  }
  (P.ticks[si]||[]).forEach(v=>{
   const y=s[2]+(v-s[0])/(s[1]-s[0])*(s[3]-s[2]);
   mk('line',{x1:P.ax-3,y1:y,x2:P.ax,y2:y,stroke:'#000','stroke-width':1},g);
   const f=Array.isArray(P.fmt)?(P.fmt[si]!==undefined?P.fmt[si]:P.fmt[0]):0;
   const t=tx(g,P.ax-4.5,y+3.3,v.toFixed(f),{'font-size':fs,'text-anchor':'end'});
   
   
  });
 });
 const y0=P.segs[0][2];
 mk('line',{x1:P.ax,y1:y0,x2:P.right,y2:y0,stroke:'#000','stroke-width':1.3},g);
 e=tx(g,P.ylx,P.yly,P.yl,{'font-size':P.id==='t'?8.5:10,'font-weight':'bold','text-anchor':'middle','letter-spacing':P.yls,transform:`rotate(-90 ${P.ylx} ${P.yly})`});
 
 
 const bw=P.gdx*0.62;
 P.box.forEach((b,i)=>{
  const cx=GX(i),col=colors[i];
  const bg=mk('g',{stroke:col,'stroke-width':1,fill:'none'},g);
  
  
  mk('line',{x1:cx,y1:Y(b[0]),x2:cx,y2:Y(b[1])},bg);
  mk('line',{x1:cx,y1:Y(b[3]),x2:cx,y2:Y(b[4])},bg);
  mk('line',{x1:cx-bw*0.25,y1:Y(b[0]),x2:cx+bw*0.25,y2:Y(b[0])},bg);
  mk('line',{x1:cx-bw*0.25,y1:Y(b[4]),x2:cx+bw*0.25,y2:Y(b[4])},bg);
  mk('rect',{x:cx-bw/2,y:Y(b[3]),width:bw,height:Math.max(0.5,Y(b[1])-Y(b[3])),fill:'#fff'},bg);
  mk('line',{x1:cx-bw/2,y1:Y(b[2]),x2:cx+bw/2,y2:Y(b[2])},bg);
  P.out[i].forEach((v,j)=>{
   const c=mk('circle',{cx:cx+jit[j%jit.length]*P.gdx,cy:Y(v),r:2.9,fill:col,stroke:'none'},g);
   
   
  });
 });
 const topOf=i=>{const arr=P.out[i].concat([P.box[i][4]]);return Y(Math.max.apply(null,arr));};
 P.br.forEach((b,k)=>{
  const by=P.brY[k];
  let xl=GX(b[0]),xr=GX(b[1]);
  P.br.forEach((o,m)=>{if(m!==k&&Math.abs(P.brY[m]-by)<0.5){if(o[0]===b[1])xr-=2.5;if(o[1]===b[0])xl+=2.5;}});
  const bg=mk('g',{stroke:'#555','stroke-width':0.8,fill:'none'},g);
  
  
  mk('polyline',{points:`${xl},${topOf(b[0])-4} ${xl},${by} ${xr},${by} ${xr},${topOf(b[1])-4}`},bg);
  const t=tx(g,(GX(b[0])+GX(b[1]))/2,by-4,b[2],{'font-size':10.2,'text-anchor':'middle'});
  
  
 });
 if(P.cats){
  groups.forEach((s,i)=>{const x=GX(i)+4,y=y0+8;
   const t=tx(g,x,y,s,{'font-size':P.cfs||10.3,'text-anchor':'end',transform:`rotate(-45 ${x} ${y})`});
   
   });
 }
});
</script>
</body></html>
